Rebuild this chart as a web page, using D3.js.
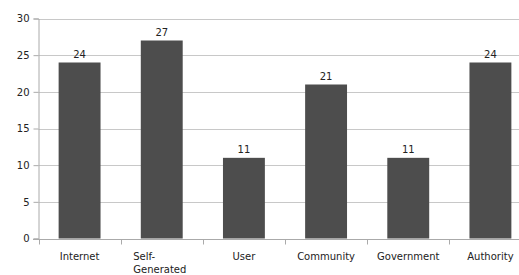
<!DOCTYPE html>
<meta charset="utf-8">
<style>
body { margin: 0; background: #fff; }
text { font-family: "DejaVu Sans", sans-serif; font-size: 10px; fill: #222; }
.grid line { stroke: #c8c8c8; }
</style>
<svg width="519" height="275"></svg>
<script src="https://cdn.jsdelivr.net/npm/d3@7"></script>
<script>

var categories = ["Internet", "Self-Generated", "User", "Community", "Government", "Authority"];
var labelLines = [["Internet"], ["Self-", "Generated"], ["User"], ["Community"], ["Government"], ["Authority"]];
var values = [24, 27, 11, 21, 11, 24];
var yTicks = [0, 5, 10, 15, 20, 25, 30];

var svg = d3.select("svg");

var x = d3.scaleBand()
    .domain(categories)
    .range([38.5, 531.5])
    .paddingInner(0.49)
    .paddingOuter(0.245);

var y = d3.scaleLinear()
    .domain([0, 30])
    .range([238.5, 18.5]);

// gridlines
svg.append("g")
    .attr("class", "grid")
  .selectAll("line")
  .data(yTicks.filter(function(d) { return d > 0; }))
  .enter().append("line")
    .attr("x1", 38.5)
    .attr("x2", 519)
    .attr("y1", function(d) { return Math.round(y(d)) + 0.5; })
    .attr("y2", function(d) { return Math.round(y(d)) + 0.5; });

// bars
svg.append("g")
  .selectAll("rect")
  .data(values)
  .enter().append("rect")
    .attr("x", function(d, i) { return x(categories[i]); })
    .attr("width", x.bandwidth())
    .attr("y", function(d) { return y(d); })
    .attr("height", function(d) { return y(0) - y(d); })
    .attr("fill", "#4d4d4d");

// value labels
svg.append("g")
  .selectAll("text")
  .data(values)
  .enter().append("text")
    .attr("x", function(d, i) { return x(categories[i]) + x.bandwidth() / 2; })
    .attr("y", function(d) { return y(d) - 5; })
    .attr("text-anchor", "middle")
    .text(function(d) { return d; });

// y axis
var yAxis = svg.append("g")
    .attr("transform", "translate(38.5,0)")
    .call(d3.axisLeft(y).tickValues(yTicks).tickSize(5).tickPadding(4));
yAxis.select(".domain").attr("stroke", "#aaa");
yAxis.selectAll(".tick line").attr("stroke", "#aaa");
yAxis.selectAll(".tick text").attr("fill", "#222").style("font-size", "10px").style("font-family", "DejaVu Sans");

// x axis line
var x0 = Math.round(y(0)) + 0.5;
svg.append("line")
    .attr("x1", 33).attr("x2", 519)
    .attr("y1", x0).attr("y2", x0)
    .attr("stroke", "#aaa");

// category ticks at band edges
var step = x.step();
svg.append("g")
  .selectAll("line")
  .data(d3.range(categories.length))
  .enter().append("line")
    .attr("x1", function(d) { return Math.round(38.5 + d * step) + 0.5; })
    .attr("x2", function(d) { return Math.round(38.5 + d * step) + 0.5; })
    .attr("y1", x0).attr("y2", x0 + 5)
    .attr("stroke", "#aaa");

// category labels
var lab = svg.append("g")
  .selectAll("text")
  .data(labelLines)
  .enter().append("text")
    .attr("y", 260)
    .attr("text-anchor", function(d) { return d.length > 1 ? "start" : "middle"; })
    .attr("x", function(d, i) {
      var c = x(categories[i]) + x.bandwidth() / 2;
      if (d.length > 1) return c - 28.5;
      return c;
    });

lab.selectAll("tspan")
  .data(function(d) { return d; })
  .enter().append("tspan")
    .attr("x", function() { return d3.select(this.parentNode).attr("x"); })
    .attr("dy", function(d, i) { return i === 0 ? 0 : 12.5; })
    .text(function(d) { return d; });

</script>
